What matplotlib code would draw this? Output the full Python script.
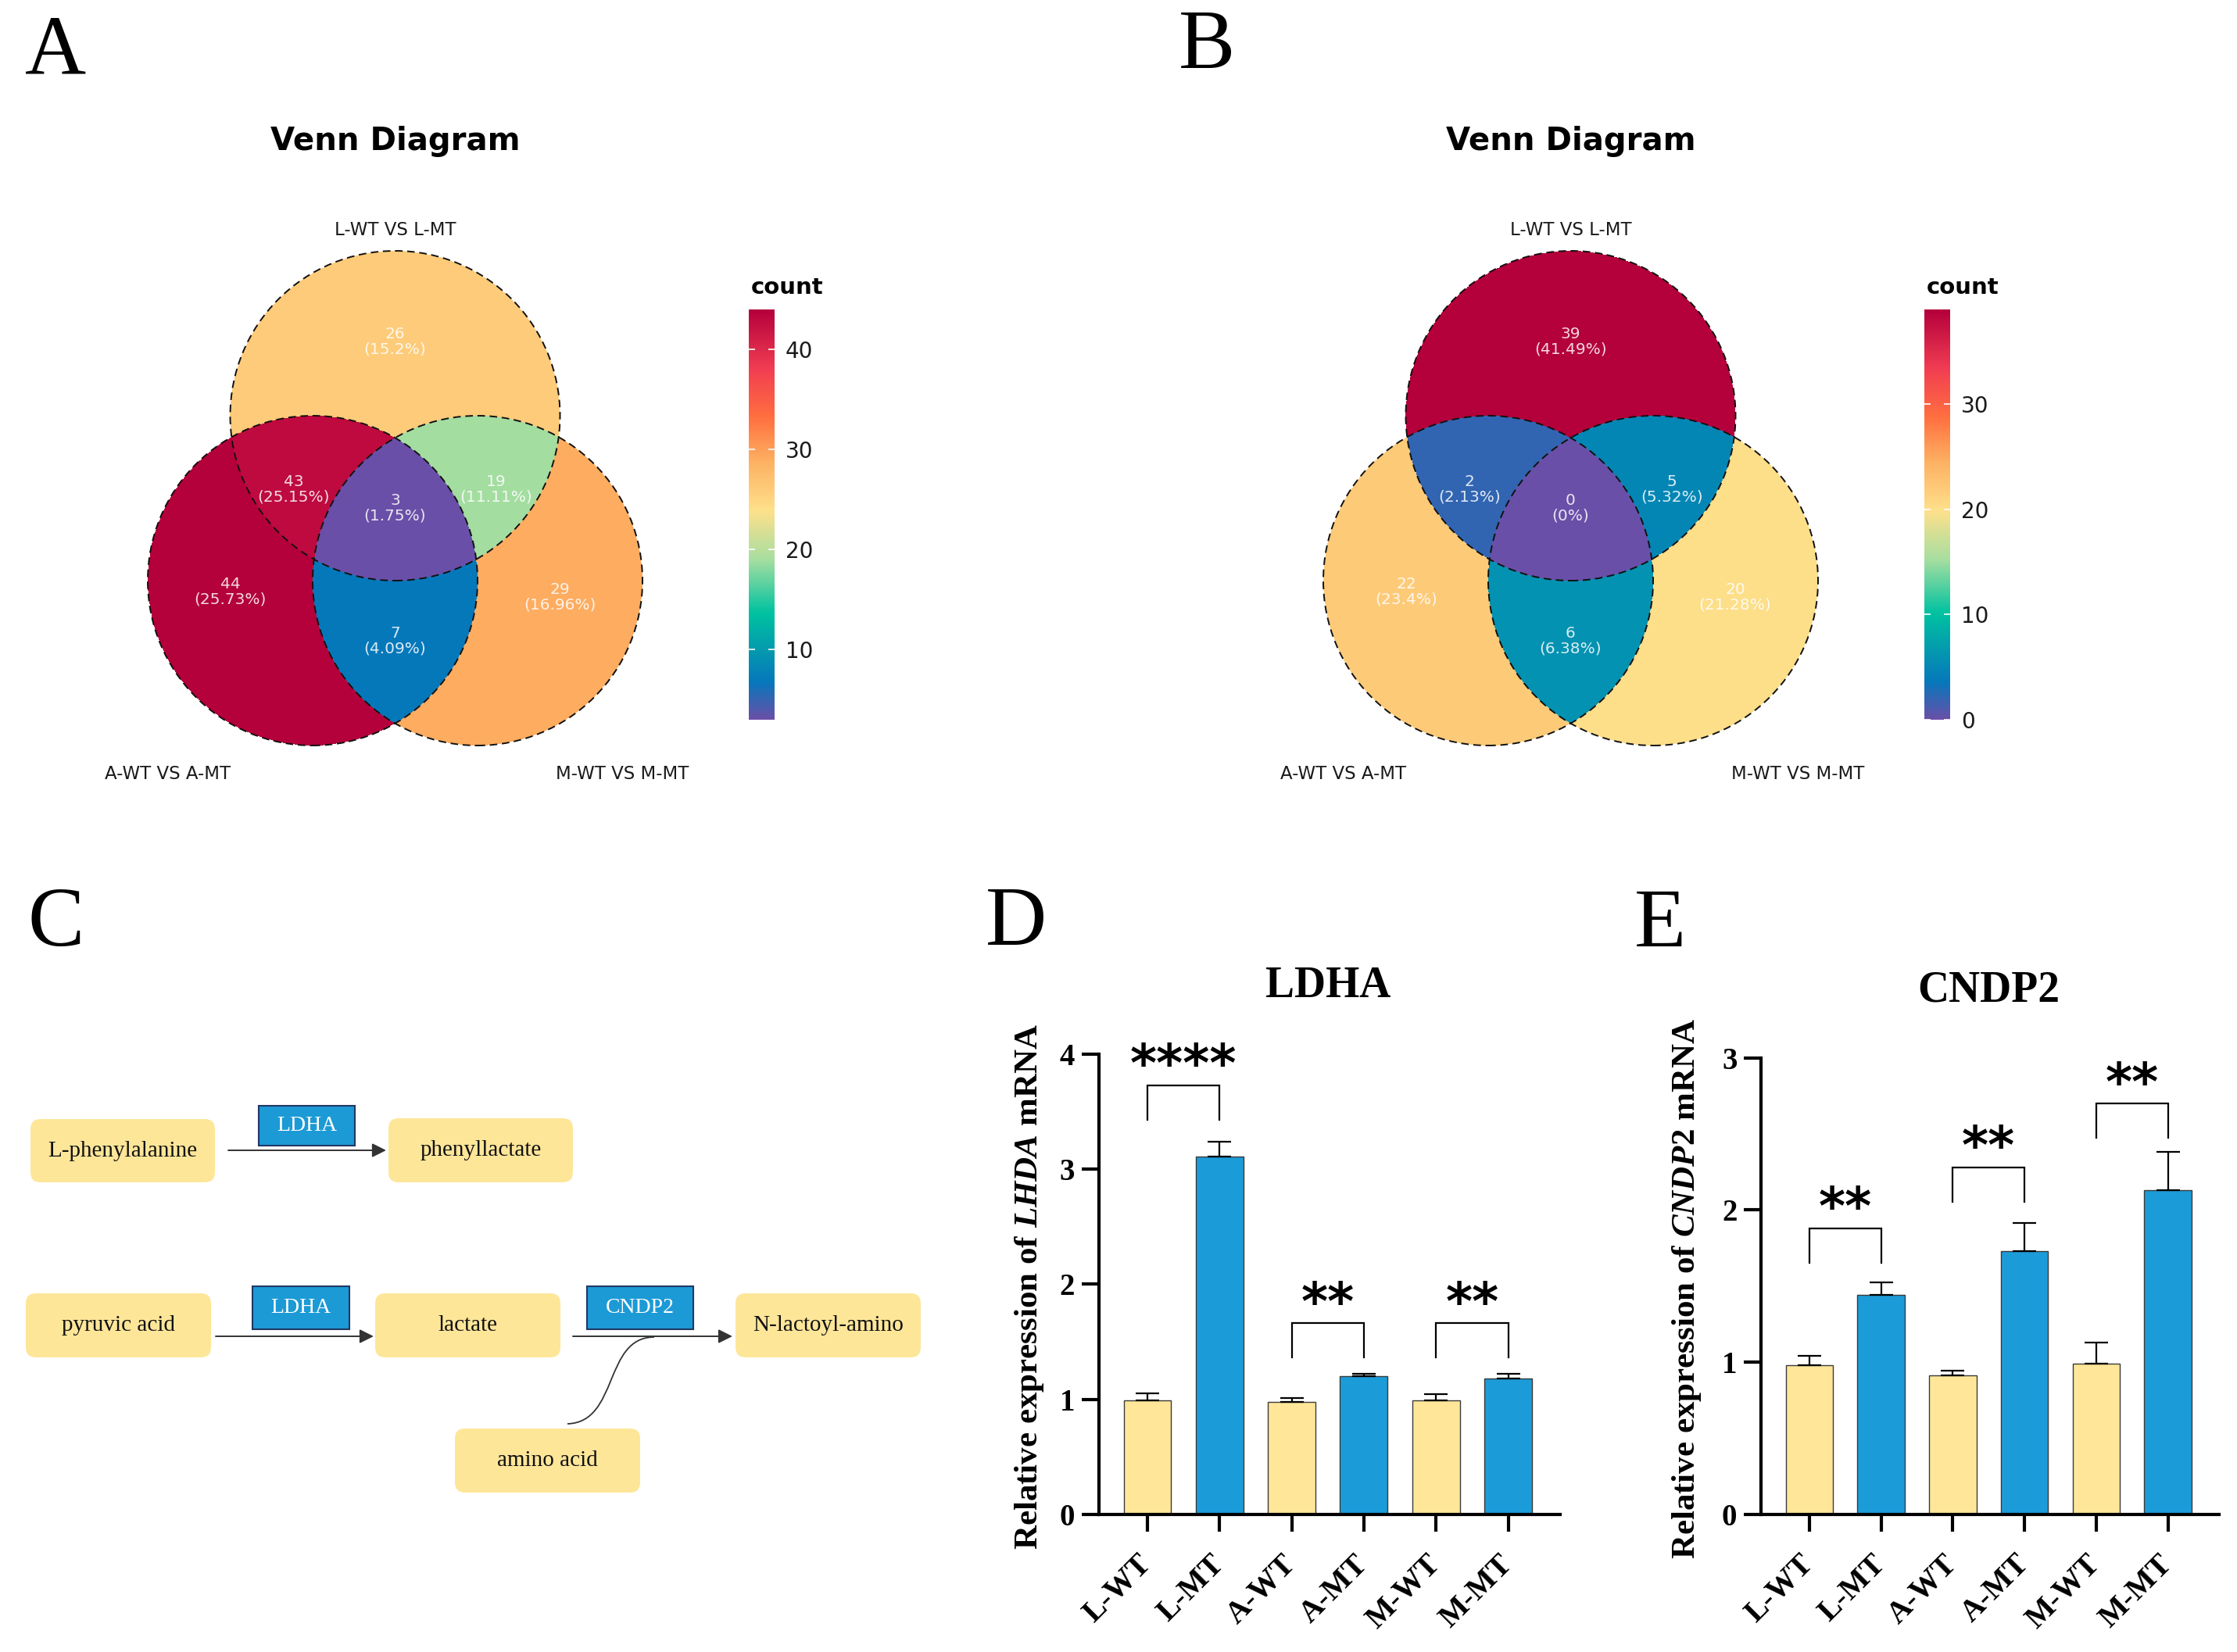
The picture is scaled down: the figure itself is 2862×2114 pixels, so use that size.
import numpy as np
import matplotlib
matplotlib.use("Agg")
import matplotlib.pyplot as plt
from matplotlib.colors import LinearSegmentedColormap
from matplotlib.patches import Circle, FancyBboxPatch, FancyArrowPatch, PathPatch
from matplotlib.path import Path

W, H = 2862, 2114
SERIF = "Liberation Serif"

plt.rcParams["font.family"] = "DejaVu Sans"
plt.rcParams["mathtext.fontset"] = "custom"
plt.rcParams["mathtext.it"] = "Liberation Serif:italic:bold"
plt.rcParams["mathtext.rm"] = "Liberation Serif:bold"

# ---- Venn data (panels A and B) ----
set_names = ["L-WT VS L-MT", "A-WT VS A-MT", "M-WT VS M-MT"]
regions = ["L", "A", "M", "LA", "LM", "AM", "LAM"]
counts_a = [26, 44, 29, 43, 19, 7, 3]
counts_b = [39, 22, 20, 2, 5, 6, 0]
cbar_ticks_a = [10, 20, 30, 40]
cbar_ticks_b = [0, 10, 20, 30]

# ---- pathway (panel C) ----
metabolites = ["L-phenylalanine", "phenyllactate", "pyruvic acid", "lactate",
               "N-lactoyl-amino", "amino acid"]
enzymes = ["LDHA", "LDHA", "CNDP2"]

# ---- qPCR (panels D and E) ----
groups = ["L-WT", "L-MT", "A-WT", "A-MT", "M-WT", "M-MT"]
ldha_mean = [0.99, 3.11, 0.98, 1.20, 0.99, 1.18]
ldha_err = [0.065, 0.125, 0.03, 0.025, 0.055, 0.04]
cndp2_mean = [0.98, 1.44, 0.915, 1.73, 0.99, 2.13]
cndp2_err = [0.06, 0.085, 0.03, 0.185, 0.14, 0.25]
sig_pairs = [(0, 1), (2, 3), (4, 5)]
ldha_sig = ["****", "**", "**"]
ldha_sig_top = [3.73, 1.66, 1.66]
cndp2_sig = ["**", "**", "**"]
cndp2_sig_top = [1.88, 2.28, 2.70]

venn_cmap = LinearSegmentedColormap.from_list("venn", [
    (0.00, "#6a4fa8"), (0.09, "#0677bb"), (0.26, "#00c2a0"), (0.39, "#a6dea0"),
    (0.51, "#fee08b"), (0.63, "#fdb062"), (0.74, "#ff6e3f"), (0.86, "#f03c52"),
    (1.00, "#b4003b")])

fig = plt.figure(figsize=(W / 100, H / 100), dpi=100)
canvas = fig.add_axes([0, 0, 1, 1])
canvas.set_xlim(0, W)
canvas.set_ylim(H, 0)
canvas.axis("off")


def px_axes(left, top, width, height):
    return fig.add_axes([left / W, 1 - (top + height) / H, width / W, height / H])


def draw_venn(dx, counts, ticks):
    ax = px_axes(20.2 + dx, 236.6, 970.6, 801.8)
    ax.set_xlim(-2.3, 2.3)
    ax.set_ylim(-1.4, 2.4)
    ax.axis("off")

    xs = np.linspace(-1.5, 1.5, 1500)
    ys = np.linspace(-1.0, 2.0, 1500)
    X, Y = np.meshgrid(xs, ys)
    in_l = X ** 2 + (Y - 1) ** 2 <= 1
    in_a = (X + 0.5) ** 2 + Y ** 2 <= 1
    in_m = (X - 0.5) ** 2 + Y ** 2 <= 1
    grid = np.full(X.shape, np.nan)
    for key, c in zip(regions, counts):
        mask = (in_l == ("L" in key)) & (in_a == ("A" in key)) & (in_m == ("M" in key))
        grid[mask] = c
    im = ax.imshow(np.ma.masked_invalid(grid), extent=(-1.5, 1.5, -1.0, 2.0),
                   origin="lower", cmap=venn_cmap, vmin=min(counts), vmax=max(counts),
                   interpolation="nearest", aspect="auto", zorder=1)

    for cx, cy in [(0, 1), (-0.5, 0), (0.5, 0)]:
        ax.add_patch(Circle((cx, cy), 1, fill=False, ls=(0, (5, 3)), lw=1.4,
                            ec="#111111", zorder=3))

    total = sum(counts)
    label_pos = [(0, 1.448), (-0.998, -0.069), (0.998, -0.1), (-0.614, 0.555),
                 (0.614, 0.555), (0, -0.365), (0, 0.44)]
    for (x, y), c in zip(label_pos, counts):
        pct = round(c / total * 100, 2)
        ax.text(x, y, f"{c}\n({pct:g}%)", ha="center", va="center", fontsize=14.5,
                color="white", alpha=0.85, linespacing=1.05, zorder=4)

    for (x, y), name in zip([(0, 2.095), (-1.377, -1.204), (1.377, -1.204)], set_names):
        ax.text(x, y, name, ha="center", va="baseline", fontsize=16.5, color="#1a1a1a")

    cax = px_axes(958 + dx, 396, 33, 525)
    cb = fig.colorbar(im, cax=cax, ticks=ticks)
    cb.outline.set_visible(False)
    cax.tick_params(direction="in", length=6, width=1.2, color="white", left=True,
                    right=True, labelsize=20, pad=10, labelcolor="#1a1a1a")

    canvas.text(505.5 + dx, 192, "Venn Diagram", ha="center", va="baseline",
                fontsize=29, fontweight="bold")
    canvas.text(961 + dx, 376, "count", ha="left", va="baseline", fontsize=21,
                fontweight="bold")


draw_venn(0, counts_a, cbar_ticks_a)
draw_venn(1504, counts_b, cbar_ticks_b)

# ---- panel C: pathway sketch ----
box_yellow = "#fee699"
box_blue = "#1b9ad6"
met_boxes = [(39, 1432, 236, 81), (497, 1431, 236, 82), (33, 1655, 237, 82),
             (480, 1655, 237, 82), (941, 1655, 237, 82), (582, 1828, 237, 82)]
enz_boxes = [(331, 1415, 123, 51), (323, 1646, 124, 55), (751, 1646, 136, 55)]
arrow_xy = [((292, 1472), (494, 1472)), ((276, 1710), (478, 1710)),
            ((733, 1710), (937, 1710))]

r = 13
for (x, y, w, h), name in zip(met_boxes, metabolites):
    canvas.add_patch(FancyBboxPatch((x + r, y + r), w - 2 * r, h - 2 * r,
                                    boxstyle=f"round,pad={r},rounding_size={r}",
                                    fc=box_yellow, ec="none"))
    canvas.text(x + w / 2, y + h / 2, name, ha="center", va="center", fontsize=21,
                family=SERIF, color="#111111")

for (x, y, w, h), name in zip(enz_boxes, enzymes):
    canvas.add_patch(FancyBboxPatch((x, y), w, h, boxstyle="square,pad=0",
                                    fc=box_blue, ec="#1f3864", lw=1.5))
    canvas.text(x + w / 2, y + h / 2, name, ha="center", va="center", fontsize=20,
                family=SERIF, color="white")

for a, b in arrow_xy:
    canvas.add_patch(FancyArrowPatch(a, b, arrowstyle="-|>,head_length=0.6,head_width=0.3",
                                     mutation_scale=18, lw=1.4, color="#333333",
                                     shrinkA=0, shrinkB=0))

curve = Path([(726, 1822), (792, 1820), (772, 1711), (837, 1711)],
             [Path.MOVETO, Path.CURVE4, Path.CURVE4, Path.CURVE4])
canvas.add_patch(PathPatch(curve, fill=False, lw=1.3, ec="#333333"))

# panel letters
for letter, (x, y) in zip("ABCDE", [(32, 94), (1508, 87), (35, 1210), (1261, 1209),
                                     (2091, 1211)]):
    canvas.text(x, y, letter, ha="left", va="baseline", fontsize=78, family=SERIF)


# ---- panels D and E: bar charts ----
def draw_bars(box, means, errs, ymax, xlim, title, gene, sig_labels, sig_tops, ylab_x):
    ax = px_axes(*box)
    x = np.arange(len(groups))
    colors = ["#ffe699", "#1b9cd8"] * 3
    ax.bar(x, means, width=0.66, color=colors, edgecolor="#3a3a3a", linewidth=1.0,
           zorder=2)
    ax.errorbar(x, means, yerr=[np.zeros(len(errs)), errs], fmt="none", ecolor="black",
                elinewidth=1.6, capsize=10.5, capthick=1.6, zorder=3)
    ax.set_xlim(*xlim)
    ax.set_ylim(0, ymax)
    ax.set_yticks(range(ymax + 1))
    for side in ["top", "right"]:
        ax.spines[side].set_visible(False)
    for side in ["left", "bottom"]:
        ax.spines[side].set_linewidth(3)
    ax.tick_params(length=16, width=3, labelsize=28)
    ax.tick_params(axis="y", pad=6)
    ax.tick_params(axis="x", pad=26)
    ax.set_xticks(x)
    ax.set_xticklabels(groups, rotation=45, ha="right", va="center",
                       rotation_mode="anchor", fontsize=28.5, fontweight="bold", family=SERIF)
    for lab in ax.get_yticklabels():
        lab.set_family(SERIF)
        lab.set_fontweight("bold")
    ax.set_ylabel(f"Relative expression of $\\mathit{{{gene}}}$ mRNA", fontsize=31,
                  fontweight="bold", family=SERIF, va="center")
    ax.yaxis.set_label_coords(ylab_x, 0.494)
    ax.text(0.497, 1.148, title, transform=ax.transAxes, ha="center", va="center",
            fontsize=40, fontweight="bold", family=SERIF)

    unit_px = box[3] / ymax
    drop = 44 / unit_px
    for (i, j), lab, top in zip(sig_pairs, sig_labels, sig_tops):
        ax.plot([i, i, j, j], [top - drop, top, top, top - drop], color="black", lw=1.6,
                clip_on=False, solid_joinstyle="miter")
        ax.annotate(lab, xy=((i + j) / 2, top), xytext=(0, 4), textcoords="offset points",
                    ha="center", va="baseline", fontsize=47, fontweight="bold",
                    family="DejaVu Sans", annotation_clip=False)
    return ax


draw_bars((1405.8, 1348.8, 590.2, 589.2), ldha_mean, ldha_err, 4, (-0.674, 5.72),
          "LDHA", "LHDA", ldha_sig, ldha_sig_top, -0.151)
draw_bars((2253, 1353.8, 586, 583.9), cndp2_mean, cndp2_err, 3, (-0.676, 5.714),
          "CNDP2", "CNDP2", cndp2_sig, cndp2_sig_top, -0.162)

fig.savefig("out.png", dpi=100)
